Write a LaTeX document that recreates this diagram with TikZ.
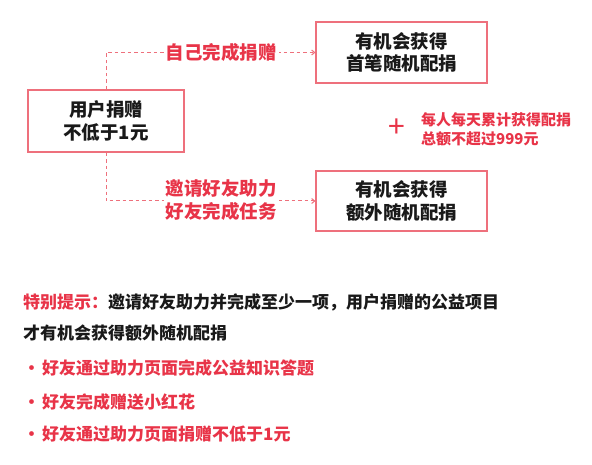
\documentclass[tikz,border=0pt]{standalone}
\usepackage{fontspec}
\setmainfont{Noto Sans CJK SC}
\usepackage{tikz}
\usetikzlibrary{arrows.meta, positioning}
\usepackage{xcolor}
\definecolor{tipred}{RGB}{232, 52, 72}
\definecolor{boxred}{RGB}{238, 112, 124}
\definecolor{inkblack}{RGB}{25, 25, 25}
\tikzstyle{box} = [rectangle, draw=boxred, line width=1.2pt, fill=white, align=center,
                   text=inkblack, font=\fontsize{18.5}{22.5}\selectfont\bfseries]
\tikzstyle{link} = [dashed, dash pattern=on 3.5pt off 3pt, boxred, line width=1pt,
                    -{Straight Barb[length=3pt, width=5pt]}]
\tikzstyle{pathlabel} = [fill=white, align=center, text=tipred, inner sep=2pt,
                         font=\fontsize{18.5}{22.5}\selectfont\bfseries]
\tikzstyle{tipline} = [anchor=west, inner sep=0pt, text=inkblack,
                       font=\fontsize{17}{20}\selectfont\bfseries]

\begin{document}
\begin{tikzpicture}[x=1pt, y=-1pt]
\useasboundingbox (0,0) rectangle (592,465);

% Boxes
\node[box, minimum width=156pt, minimum height=62pt] (donate) at (106,121) {用户捐赠\\不低于1元};
\node[box, minimum width=171pt, minimum height=61pt] (first) at (401.5,52.5) {有机会获得\\首笔随机配捐};
\node[box, minimum width=171pt, minimum height=60pt] (extra) at (401.5,201) {有机会获得\\额外随机配捐};

% Connectors
\draw[link] (donate.north) |- (first.west);
\draw[link] (donate.south) |- (extra.west);
\node[pathlabel] (selflbl) at (221,52) {自己完成捐赠};
\node[pathlabel] (friendlbl) at (221,200) {邀请好友助力\\好友完成任务};

% Plus and limit note
\node[text=tipred, font=\fontsize{30}{30}\selectfont] (plus) at (397,128) {+};
\node[anchor=west, align=left, text=tipred, inner sep=0pt,
      font=\fontsize{15}{19}\selectfont\bfseries] (limit) at (421,129) {每人每天累计获得配捐\\总额不超过999元};

% Special tip
\node[tipline] (tip1) at (23,302) {{\color{tipred}特别提示：}邀请好友助力并完成至少一项，用户捐赠的公益项目};
\node[tipline] (tip2) at (23,333) {才有机会获得额外随机配捐};
\node[tipline, text=tipred] (task1) at (23,368) {\makebox[19pt][l]{•}好友通过助力页面完成公益知识答题};
\node[tipline, text=tipred] (task2) at (23,402) {\makebox[19pt][l]{•}好友完成赠送小红花};
\node[tipline, text=tipred] (task3) at (23,434) {\makebox[19pt][l]{•}好友通过助力页面捐赠不低于1元};

\end{tikzpicture}
\end{document}
